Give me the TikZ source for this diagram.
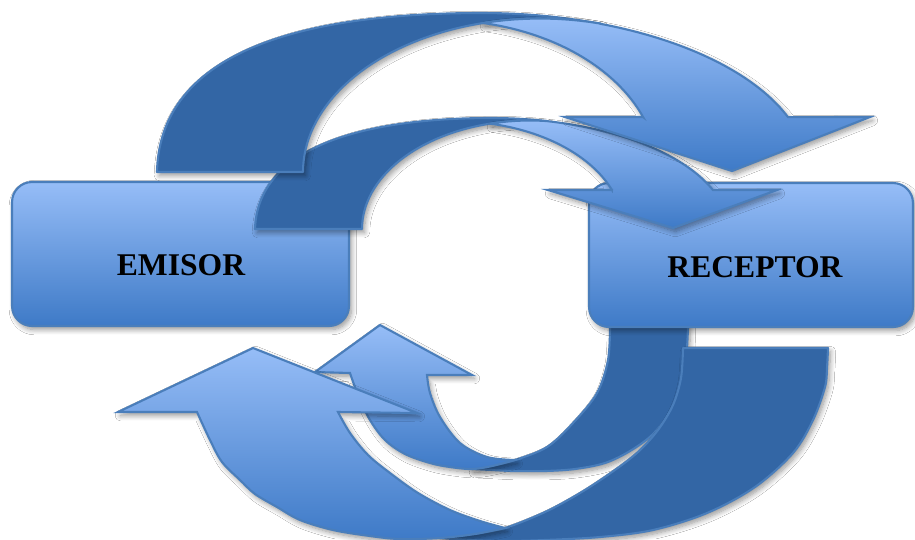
\documentclass[tikz,border=0pt]{standalone}
\usepackage{fontspec}
\setmainfont{Liberation Serif}
\usetikzlibrary{shadows.blur}

\definecolor{backface}{RGB}{51,102,165}
\definecolor{rim}{RGB}{74,126,187}
\definecolor{facetop}{RGB}{150,189,247}
\definecolor{facebottom}{RGB}{62,122,199}

\tikzset{
  px/.style={x=0.02cm, y=-0.02cm},
  softshadow/.style={blur shadow={shadow xshift=1.4pt, shadow yshift=-2pt,
      shadow blur radius=3pt, shadow blur steps=8, shadow opacity=42}},
  backpart/.style={fill=backface, draw=rim, line width=1.2pt, line join=round, softshadow},
  frontpart/.style={top color=facetop, bottom color=facebottom, draw=rim,
      line width=1.2pt, line join=miter, softshadow},
  card/.style={rectangle, rounded corners=0.4cm, top color=facetop, bottom color=facebottom,
      draw=rim, line width=1.2pt, softshadow, inner sep=0pt},
  caption/.style={font=\bfseries\fontsize{18}{20}\selectfont, text=black, inner sep=0pt, anchor=base},
}

\begin{document}
\begin{tikzpicture}[px]
\useasboundingbox (0,0) rectangle (915,539);
\fill[white] (0,0) rectangle (915,539);
\clip (0,0) rectangle (915,539);

% ---- small return arrow (receptor -> emisor), back face
\path[backpart] (610,318) -- (688,318)
  -- plot[smooth, tension=0.55] coordinates {(688,327) (686,360) (680,390) (668,415) (652,435)
       (630,451) (605,463) (575,469) (545,471) (513,471) (492,470) (472,469)}
  -- plot[smooth, tension=0.55] coordinates {(472,469) (492,466) (515,460) (547,447) (573,423)
       (597,393) (608,360) (610,327)}
  -- cycle;
% front face with head
\path[frontpart]
  plot[smooth, tension=0.55] coordinates {(515,460) (492,466) (472,469) (450,467) (430,463)
       (405,454) (385,440) (370,420) (358,395) (350,373)}
  -- (315,372) -- (380,325) -- (472,375) -- (427,375)
  -- plot[smooth, tension=0.55] coordinates {(427,375) (430,393) (440,417) (460,443) (487,457) (515,460)}
  -- cycle;

% ---- large return arrow, back face
\path[backpart] (683,348) -- (828,348)
  -- plot[smooth, tension=0.55] coordinates {(828,348) (827,368) (825,387) (813,420) (793,453)
       (755,487) (707,513) (653,530) (600,537) (545,540) (505,541) (470,540) (440,538)}
  -- plot[smooth, tension=0.55] coordinates {(440,538) (475,534) (505,528) (545,512) (580,493)
       (612,472) (638,452) (658,430) (673,405) (681,378) (683,348)}
  -- cycle;
% front face with head
\path[frontpart]
  plot[smooth, tension=0.55] coordinates {(505,528) (475,534) (440,538) (400,539) (370,536)
       (333,530) (300,520) (277,507) (255,494) (240,480) (222,462) (210,440) (197,412)}
  -- (118,412) -- (253,348) -- (417,413) -- (338,412)
  -- plot[smooth, tension=0.55] coordinates {(338,412) (350,433) (368,455) (390,473) (418,493)
       (450,510) (480,521) (505,528)}
  -- cycle;

% ---- the two boxes
\node[card, minimum width=6.74cm, minimum height=2.88cm] (emisor) at (180.5,254) {};
\node[card, minimum width=6.48cm, minimum height=2.88cm] (receptor) at (751,255) {};

% ---- small forward arrow (emisor -> receptor), back face
\path[backpart] (255,229) .. controls (258,140) and (380,118) .. (491.5,118)
  -- plot[domain=90:76.7, samples=12] ({491.5+236.5*cos(\x)}, {229-111*sin(\x)})
  -- plot[domain=84.5:180, samples=40] ({530+168*cos(\x)}, {229-108.5*sin(\x)})
  -- cycle;
% front face with head
\path[frontpart]
  plot[domain=103.8:84.5, samples=10] ({530+168*cos(\x)}, {229-108.5*sin(\x)})
  -- plot[domain=76.7:20.5, samples=40] ({491.5+236.5*cos(\x)}, {229-111*sin(\x)})
  -- (777,190) -- (673,228) -- (548,190) -- (612,190)
  -- plot[domain=21.2:78.0, samples=40] ({455+168.4*cos(\x)}, {229-107.75*sin(\x)})
  -- cycle;

% ---- large forward arrow, back face
\path[backpart] (157,172) .. controls (160,40) and (330,13) .. (482.5,13)
  -- plot[domain=90:68.8, samples=12] ({482.5+325.5*cos(\x)}, {172-159*sin(\x)})
  -- plot[domain=75.3:180, samples=50] ({540+237*cos(\x)}, {172-153.5*sin(\x)})
  -- cycle;
% front face with head
\path[frontpart]
  plot[domain=103.9:75.3, samples=12] ({540+237*cos(\x)}, {172-153.5*sin(\x)})
  -- plot[domain=68.8:20.2, samples=40] ({482.5+325.5*cos(\x)}, {172-159*sin(\x)})
  -- (870,117) -- (732,171) -- (565,117) -- (643,117)
  -- plot[domain=21.2:78.6, samples=40] ({440+217.8*cos(\x)}, {172-152*sin(\x)})
  -- cycle;

% ---- labels
\node[caption] (emisortext) at (181,275) {EMISOR};
\node[caption] (receptortext) at (755,277) {RECEPTOR};
\end{tikzpicture}
\end{document}
